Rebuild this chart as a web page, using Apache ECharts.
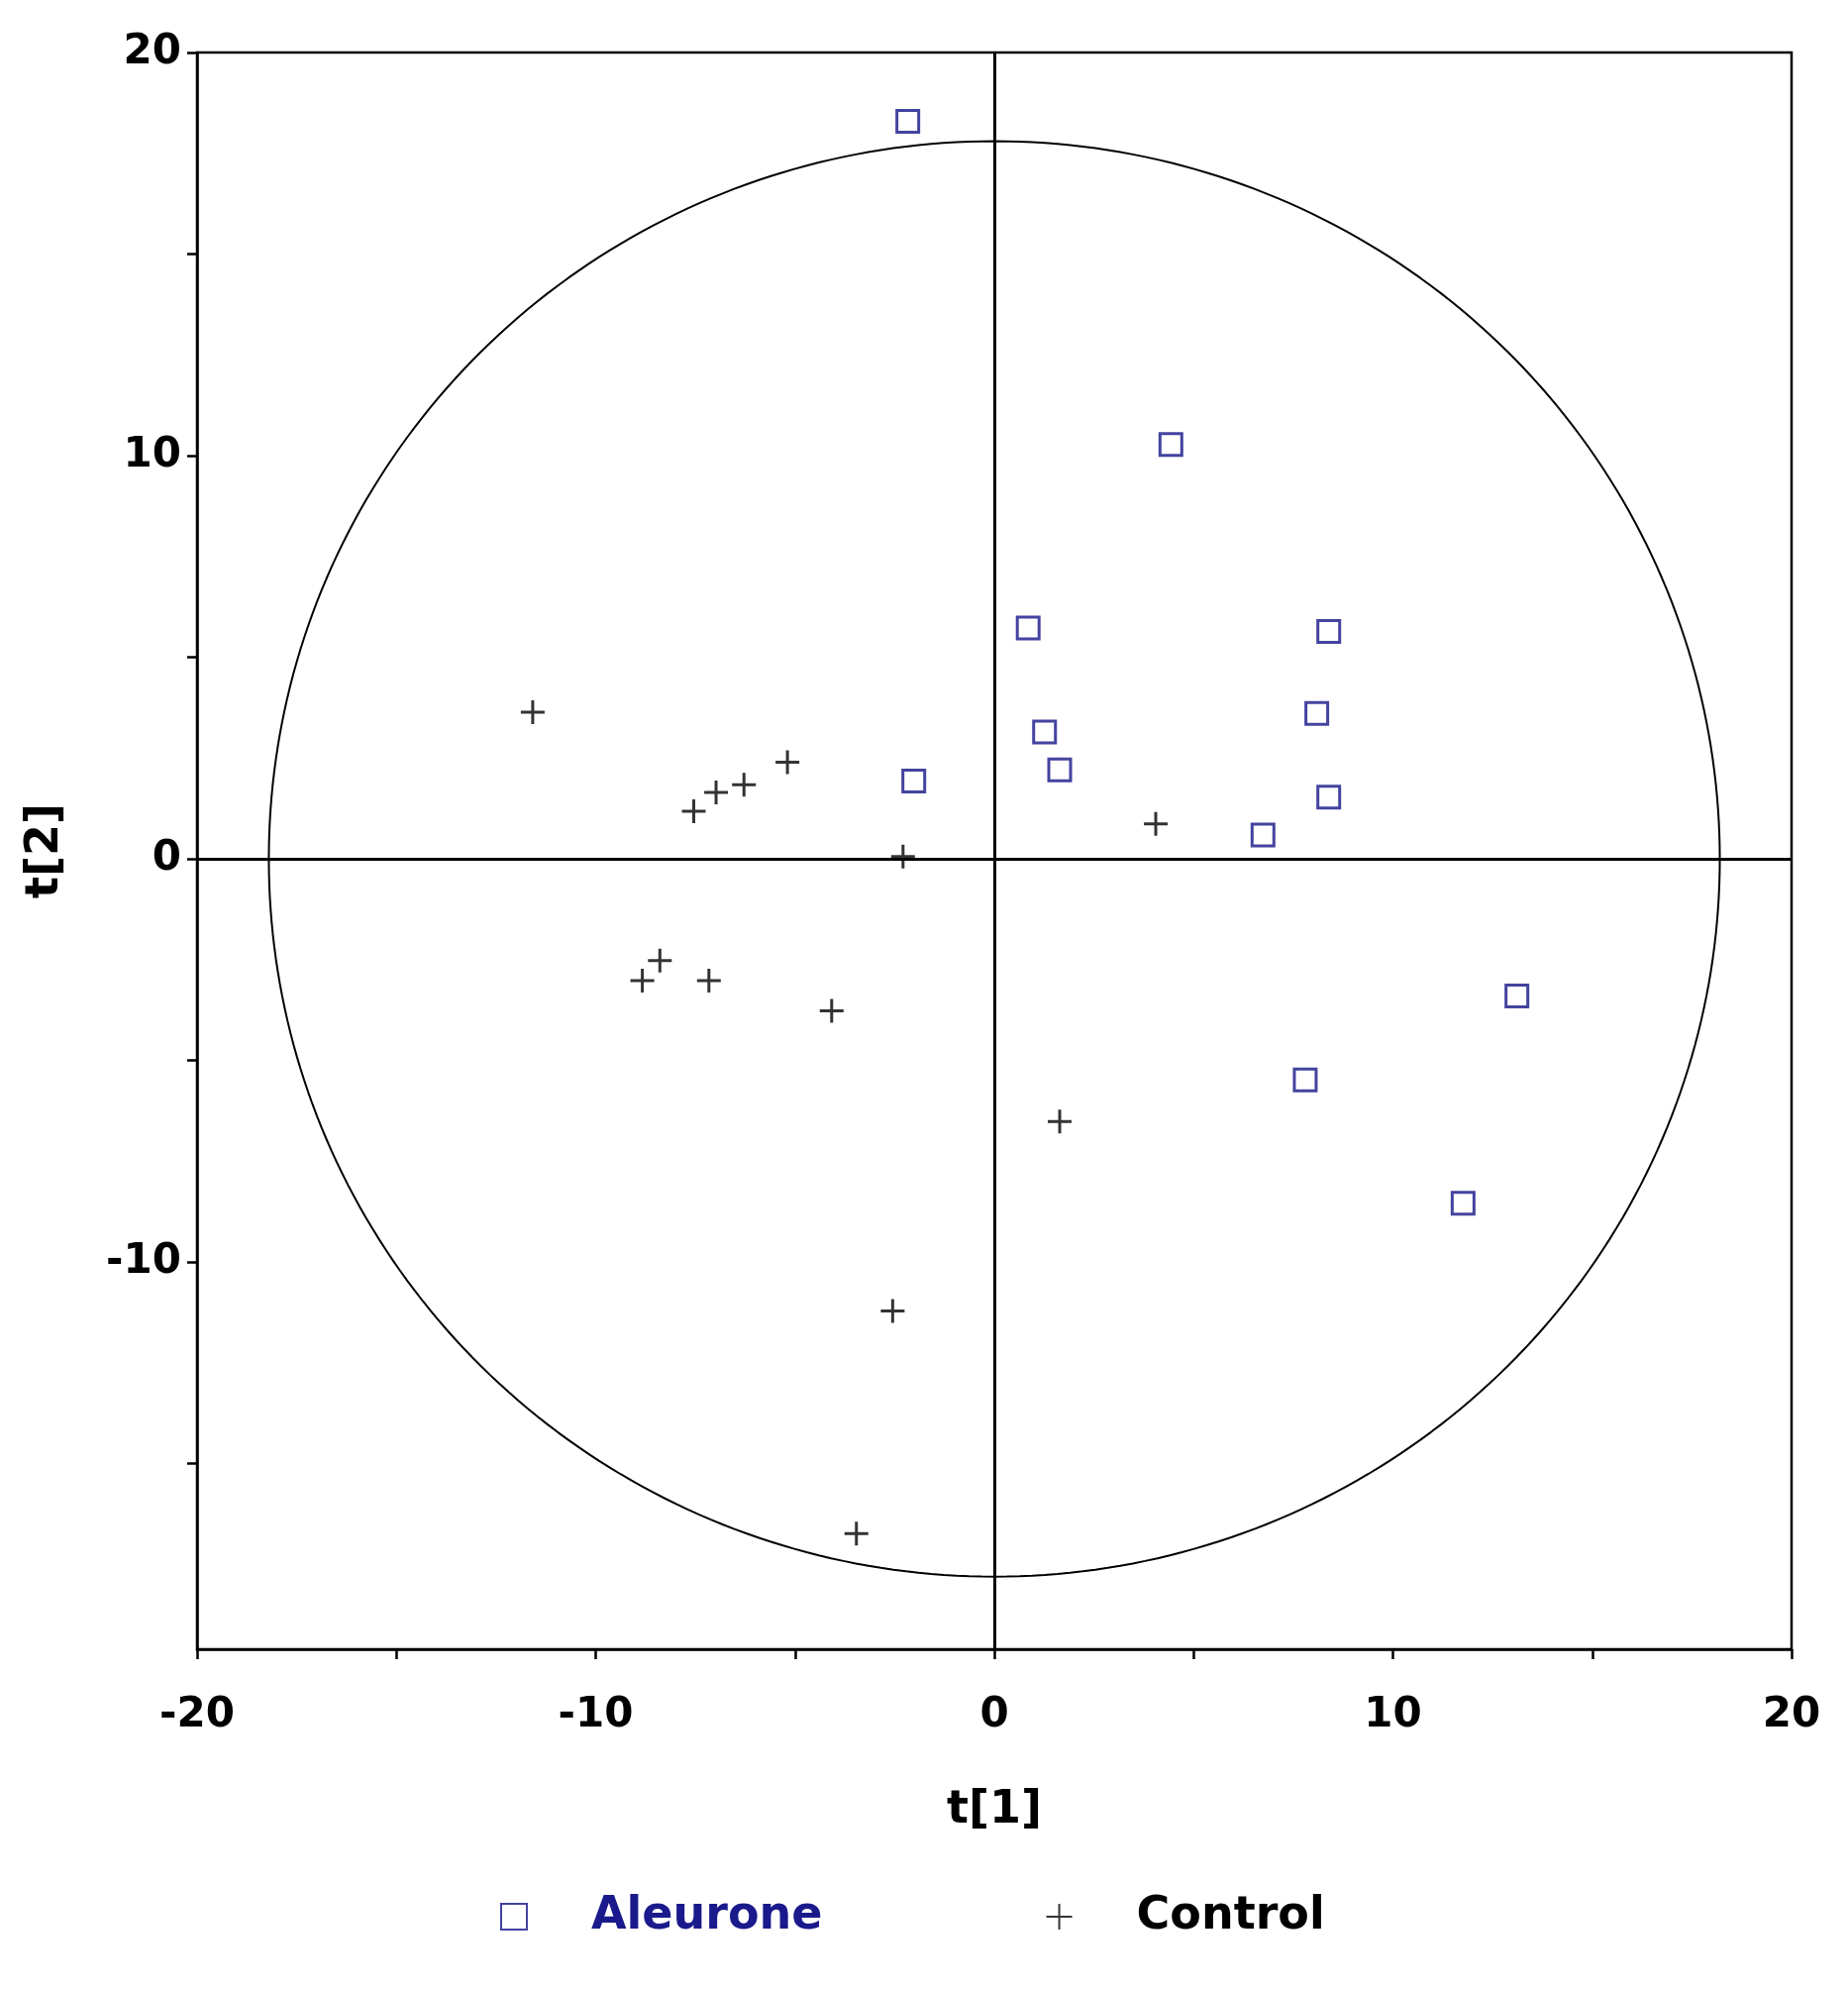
<!DOCTYPE html>
<html>
<head>
<meta charset="utf-8">
<script src="https://cdn.jsdelivr.net/npm/echarts@6/dist/echarts.min.js"></script>
<style>html,body{margin:0;padding:0;background:#fff}#chart{width:1866px;height:2008px}</style>
</head>
<body>
<div id="chart"></div>
<script>
// score values
const aleurone = [
  [-2.17, 18.29], [4.43, 10.28], [0.85, 5.73], [8.39, 5.64], [8.09, 3.61],
  [1.26, 3.15], [1.64, 2.21], [-2.02, 1.93], [8.39, 1.53], [6.74, 0.59],
  [13.11, -3.40], [7.80, -5.48], [11.76, -8.54]
];
const control = [
  [-11.58, 3.64], [-5.19, 2.40], [-6.28, 1.84], [-6.98, 1.65], [-7.54, 1.18],
  [-2.29, 0.06], [4.05, 0.87], [-8.39, -2.52], [-8.83, -3.02], [-7.16, -3.02],
  [-4.08, -3.77], [1.64, -6.51], [-2.55, -11.21], [-3.46, -16.73]
];
const xTicks = [-20, -15, -10, -5, 0, 5, 10, 15, 20];
const xLabels = [-20, -10, 0, 10, 20];
const yTicks = [-15, -10, -5, 0, 5, 10, 15, 20];
const yLabels = [-10, 0, 10, 20];
// Hotelling T2 ellipse radii
const ellipseR = [18.2, 17.8];

const ellipse = [];
for (let i = 0; i <= 360; i++) {
  const a = i * Math.PI / 180;
  ellipse.push([ellipseR[0] * Math.cos(a), ellipseR[1] * Math.sin(a)]);
}

const chart = echarts.init(document.getElementById('chart'));
const font = 'DejaVu Sans';
const crossPath = 'path://M0,5L10,5M5,0L5,10';

chart.setOption({
  animation: false,
  grid: { left: 199, right: 57, top: 53, bottom: 343, show: true, borderColor: '#000', borderWidth: 2.5 },
  xAxis: {
    type: 'value', min: -20, max: 20,
    name: 't[1]', nameLocation: 'middle', nameGap: 140,
    nameTextStyle: { fontFamily: font, fontWeight: 'bold', fontSize: 46, color: '#000' },
    axisLine: { show: true, onZero: false, lineStyle: { color: '#000', width: 2.5 } },
    axisTick: { show: true, length: 10, customValues: xTicks, lineStyle: { color: '#000', width: 2.5 } },
    axisLabel: { customValues: xLabels, margin: 46, fontFamily: font, fontWeight: 'bold', fontSize: 42, color: '#000' },
    splitLine: { show: false }
  },
  yAxis: {
    type: 'value', min: -19.6, max: 20,
    name: 't[2]', nameLocation: 'middle', nameGap: 130, nameRotate: 90,
    nameTextStyle: { fontFamily: font, fontWeight: 'bold', fontSize: 46, color: '#000' },
    axisLine: { show: true, onZero: false, lineStyle: { color: '#000', width: 2.5 } },
    axisTick: { show: true, length: 10, customValues: yTicks, lineStyle: { color: '#000', width: 2.5 } },
    axisLabel: { customValues: yLabels, margin: 16, fontFamily: font, fontWeight: 'bold', fontSize: 42, color: '#000' },
    splitLine: { show: false }
  },
  legend: {
    bottom: 45, left: 500, itemGap: 225, itemWidth: 26, itemHeight: 26,
    textStyle: { fontFamily: font, fontWeight: 'bold', fontSize: 46, padding: [0, 0, 0, 60] },
    data: [
      { name: 'Aleurone', textStyle: { color: '#1a1a8c' } },
      { name: 'Control', icon: crossPath, textStyle: { color: '#000' } }
    ]
  },
  series: [
    {
      type: 'line', data: ellipse, showSymbol: false, silent: true,
      lineStyle: { color: '#000', width: 2 },
      markLine: {
        silent: true, symbol: 'none', label: { show: false },
        lineStyle: { color: '#000', width: 3, type: 'solid' },
        data: [{ xAxis: 0 }, { yAxis: 0 }]
      }
    },
    {
      name: 'Aleurone', type: 'scatter', data: aleurone, symbol: 'rect', symbolSize: 22,
      itemStyle: { color: 'rgba(0,0,0,0)', borderColor: '#141488', borderWidth: 3 }
    },
    {
      name: 'Control', type: 'scatter', data: control, symbol: crossPath, symbolSize: 24,
      itemStyle: { color: 'rgba(0,0,0,0)', borderColor: '#000', borderWidth: 3 }
    }
  ]
});
</script>
</body>
</html>
